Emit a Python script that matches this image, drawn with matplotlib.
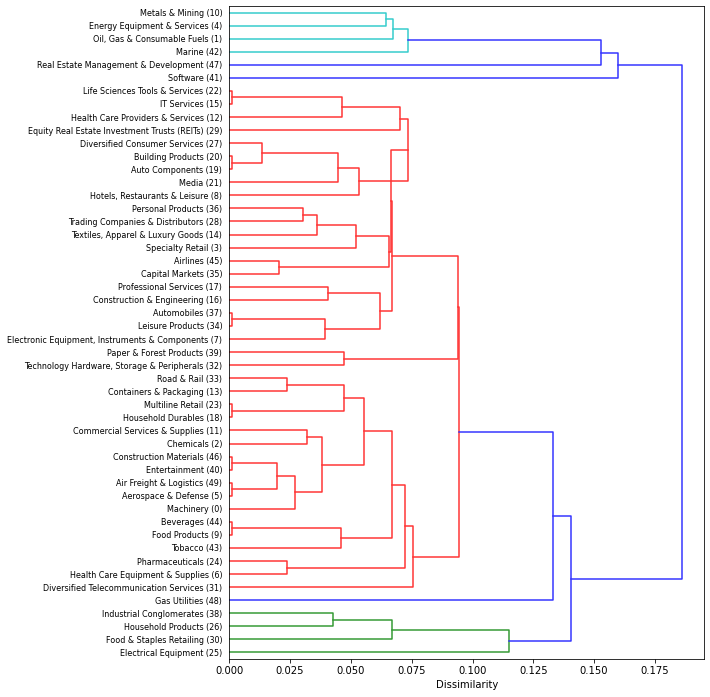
import matplotlib
matplotlib.use('Agg')
import matplotlib.pyplot as plt

# Leaf labels, top to bottom
labels = [
    "Metals & Mining (10)",
    "Energy Equipment & Services (4)",
    "Oil, Gas & Consumable Fuels (1)",
    "Marine (42)",
    "Real Estate Management & Development (47)",
    "Software (41)",
    "Life Sciences Tools & Services (22)",
    "IT Services (15)",
    "Health Care Providers & Services (12)",
    "Equity Real Estate Investment Trusts (REITs) (29)",
    "Diversified Consumer Services (27)",
    "Building Products (20)",
    "Auto Components (19)",
    "Media (21)",
    "Hotels, Restaurants & Leisure (8)",
    "Personal Products (36)",
    "Trading Companies & Distributors (28)",
    "Textiles, Apparel & Luxury Goods (14)",
    "Specialty Retail (3)",
    "Airlines (45)",
    "Capital Markets (35)",
    "Professional Services (17)",
    "Construction & Engineering (16)",
    "Automobiles (37)",
    "Leisure Products (34)",
    "Electronic Equipment, Instruments & Components (7)",
    "Paper & Forest Products (39)",
    "Technology Hardware, Storage & Peripherals (32)",
    "Road & Rail (33)",
    "Containers & Packaging (13)",
    "Multiline Retail (23)",
    "Household Durables (18)",
    "Commercial Services & Supplies (11)",
    "Chemicals (2)",
    "Construction Materials (46)",
    "Entertainment (40)",
    "Air Freight & Logistics (49)",
    "Aerospace & Defense (5)",
    "Machinery (0)",
    "Beverages (44)",
    "Food Products (9)",
    "Tobacco (43)",
    "Pharmaceuticals (24)",
    "Health Care Equipment & Supplies (6)",
    "Diversified Telecommunication Services (31)",
    "Gas Utilities (48)",
    "Industrial Conglomerates (38)",
    "Household Products (26)",
    "Food & Staples Retailing (30)",
    "Electrical Equipment (25)",
]

# Merges: ids < 50 are leaves (index in labels), ids >= 50 are earlier merges
merge_left = [0, 50, 51, 52, 53,
              6, 55, 56, 11, 10, 59, 60, 57, 15, 63, 64, 19, 65, 62, 21, 23, 70, 69, 68, 26, 73,
              28, 30, 76, 32, 34, 36, 80, 82, 79, 78, 39, 86, 85, 42, 88, 90, 75, 92,
              46, 94, 95, 93, 54]
merge_right = [1, 2, 3, 4, 5,
               7, 8, 9, 12, 58, 13, 14, 61, 16, 17, 18, 20, 66, 67, 22, 24, 25, 71, 72, 27, 74,
               29, 31, 77, 33, 35, 37, 81, 38, 83, 84, 40, 41, 87, 43, 89, 44, 91, 45,
               47, 48, 49, 96, 97]
merge_height = [0.0644, 0.0673, 0.0736, 0.1530, 0.1600,
                0.0011, 0.0464, 0.0703, 0.0011, 0.0135, 0.0448, 0.0534, 0.0736, 0.0304, 0.0361,
                0.0520, 0.0205, 0.0655, 0.0665, 0.0407, 0.0011, 0.0394, 0.0621, 0.0671, 0.0472,
                0.0939,
                0.0238, 0.0011, 0.0470, 0.0320, 0.0011, 0.0011, 0.0196, 0.0269, 0.0380, 0.0555,
                0.0011, 0.0459, 0.0670, 0.0238, 0.0722, 0.0757, 0.0946, 0.1329,
                0.0427, 0.0670, 0.1148, 0.1403, 0.1860]

n = len(labels)
children = list(zip(merge_left, merge_right))
height = {i: 0.0 for i in range(n)}
pos = {i: 5 + 10 * (n - 1 - i) for i in range(n)}
parent = {}
for k, (a, b) in enumerate(children):
    node = n + k
    height[node] = merge_height[k]
    pos[node] = (pos[a] + pos[b]) / 2.0
    parent[a] = node
    parent[b] = node
root = n + len(children) - 1

threshold = 0.7 * max(merge_height)
cluster_roots = [nd for nd in range(n, root + 1)
                 if height[nd] < threshold and (nd == root or height[parent[nd]] >= threshold)]
cluster_roots.sort(key=lambda nd: pos[nd])
palette = ['#339933', '#ff3333', '#33cccc']
above_color = '#3333ff'
node_color = {}


def paint(nd, c):
    if nd < n:
        return
    node_color[nd] = c
    a, b = children[nd - n]
    paint(a, c)
    paint(b, c)


for i, cr in enumerate(cluster_roots):
    paint(cr, palette[i % len(palette)])

fig = plt.figure(figsize=(710 / 72, 697 / 72), dpi=72)
ax = fig.add_axes([229.3 / 710, 1 - 659 / 697, 475 / 710, 653 / 697])

for k, (a, b) in enumerate(children):
    nd = n + k
    h = height[nd]
    c = node_color.get(nd, above_color)
    ax.plot([height[a], h, h, height[b]], [pos[a], pos[a], pos[b], pos[b]],
            color=c, lw=1.5)

ax.set_ylim(0, 10 * n)
ax.set_xlim(0, 1.05 * max(merge_height))
ax.set_yticks([pos[i] for i in range(n)])
ax.set_yticklabels(labels, fontsize=8)
for t in ax.get_yticklines():
    t.set_visible(False)
ax.set_xlabel("Dissimilarity")

fig.savefig("out.png", dpi=72)
